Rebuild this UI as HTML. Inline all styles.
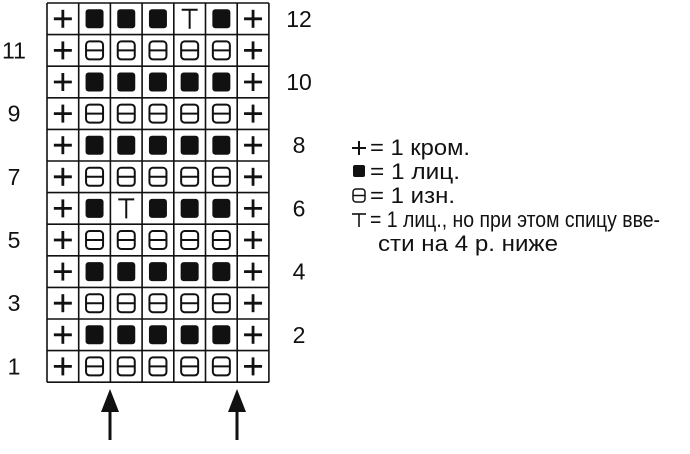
<!DOCTYPE html>
<html><head><meta charset="utf-8"><style>
html,body{margin:0;padding:0;background:#fff;width:690px;height:454px;overflow:hidden}
svg{display:block}
text{font-family:"Liberation Sans",sans-serif;fill:#111}
.lg{font-size:22px}
.num{font-size:23px}
</style></head><body>
<svg width="690" height="454" viewBox="0 0 690 454" xmlns="http://www.w3.org/2000/svg">
<g id="grid"></g>
<script>
(function(){
var g=document.getElementById('grid'),NS='http://www.w3.org/2000/svg';
function el(t,a){var e=document.createElementNS(NS,t);for(var k in a)e.setAttribute(k,a[k]);g.appendChild(e);return e;}
var x0=47,y0=3,cw=31.7,rh=31.6;
for(var r=0;r<12;r++){
 var row=12-r, cy=y0+rh*r+rh/2;
 for(var c=0;c<7;c++){
  var cx=x0+cw*c+cw/2;
  if(c==0||c==6){
   el('line',{x1:cx-9,y1:cy,x2:cx+9,y2:cy,stroke:'#111','stroke-width':2.8});
   el('line',{x1:cx,y1:cy-9,x2:cx,y2:cy+9,stroke:'#111','stroke-width':2.8});
  } else if((row==12&&c==4)||(row==6&&c==2)){
   el('line',{x1:cx-8,y1:cy-9,x2:cx+8,y2:cy-9,stroke:'#111','stroke-width':2});
   el('line',{x1:cx,y1:cy-9,x2:cx,y2:cy+10,stroke:'#111','stroke-width':2});
  } else if(row%2==0){
   el('rect',{x:cx-9,y:cy-9.5,width:18,height:19,rx:3,fill:'#111'});
  } else {
   el('rect',{x:cx-8.5,y:cy-9,width:17,height:18,rx:3.5,fill:'none',stroke:'#111','stroke-width':2});
   el('line',{x1:cx-8.5,y1:cy,x2:cx+8.5,y2:cy,stroke:'#111','stroke-width':2});
  }
 }
 var t=el('text',{x:row%2?14:299,y:cy+8,'text-anchor':'middle','class':'num'});t.textContent=row;
}
for(var i=0;i<=12;i++)el('line',{x1:x0,y1:y0+rh*i,x2:x0+cw*7,y2:y0+rh*i,stroke:'#111','stroke-width':1.6});
for(var c=0;c<=7;c++)el('line',{x1:x0+cw*c,y1:y0,x2:x0+cw*c,y2:y0+rh*12,stroke:'#111','stroke-width':1.6});
[110,237].forEach(function(x){
 el('polygon',{points:(x)+',389 '+(x-9)+',412 '+(x+9)+',412',fill:'#111'});
 el('line',{x1:x,y1:405,x2:x,y2:440,stroke:'#111','stroke-width':3});
});
})();
</script>
<g>
<line x1="352" y1="148" x2="366" y2="148" stroke="#111" stroke-width="2"/>
<line x1="359" y1="141" x2="359" y2="155" stroke="#111" stroke-width="2"/>
<text class="lg" x="370" y="155" textLength="100" lengthAdjust="spacingAndGlyphs">= 1 кром.</text>
<rect x="353" y="165" width="12" height="12" rx="2" fill="#111"/>
<text class="lg" x="370" y="179" textLength="90" lengthAdjust="spacingAndGlyphs">= 1 лиц.</text>
<rect x="353" y="189" width="12" height="13" rx="3" fill="none" stroke="#111" stroke-width="1.5"/>
<line x1="353" y1="195.5" x2="365" y2="195.5" stroke="#111" stroke-width="1.5"/>
<text class="lg" x="370" y="203" textLength="85" lengthAdjust="spacingAndGlyphs">= 1 изн.</text>
<line x1="352" y1="214" x2="366" y2="214" stroke="#111" stroke-width="1.6"/>
<line x1="359" y1="214" x2="359" y2="227" stroke="#111" stroke-width="1.6"/>
<text class="lg" x="370" y="227" textLength="290" lengthAdjust="spacingAndGlyphs">= 1 лиц., но при этом спицу вве-</text>
<text class="lg" x="378" y="251" textLength="180" lengthAdjust="spacingAndGlyphs">сти на 4 р. ниже</text>
</g>
</svg>
</body></html>
